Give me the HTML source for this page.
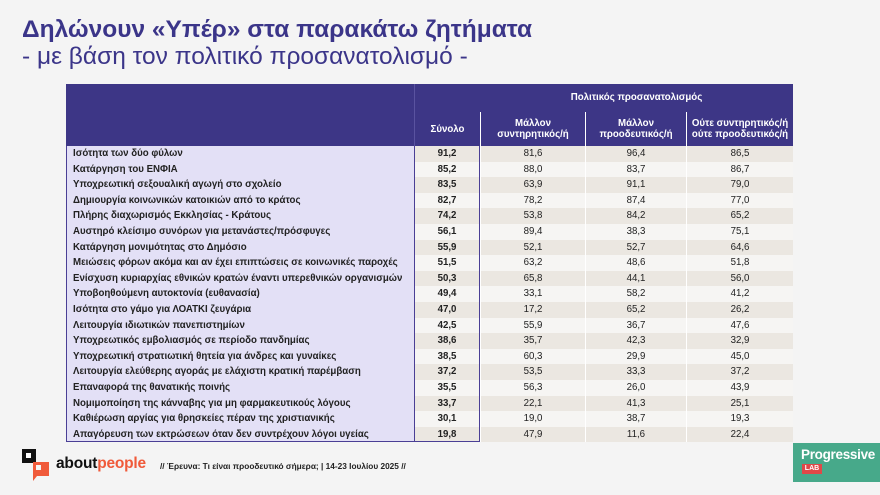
<!DOCTYPE html>
<html><head><meta charset="utf-8"><style>
*{margin:0;padding:0;box-sizing:border-box}
body{width:880px;height:495px;background:#f4f4f4;position:relative;overflow:hidden;font-family:"Liberation Sans","Noto Sans CJK SC",sans-serif}
.t1{position:absolute;left:22px;top:16px;font-size:24.5px;font-weight:bold;color:#3b3589;white-space:nowrap}
.t2{position:absolute;left:22px;top:43px;font-size:24.5px;color:#3b3589;white-space:nowrap}
#tb{position:absolute;left:66px;top:84px;width:727px;font-size:9.7px;color:#222}
.r{display:flex;height:15.6px;line-height:15.6px}
.r div{text-align:center;white-space:nowrap;flex:none;overflow:hidden}
.c1{width:348px}.c2{width:66px}.c3{width:105px}.c4{width:101px}.c5{width:107px}
.h{background:#3d3686;color:#fff;font-weight:bold}
.r.h1{height:28px;line-height:28px}
.r.h2{height:34px;line-height:11px}
.h2 div{padding-top:6px}
.r .l{text-align:left;padding-left:6px;font-weight:bold;background:#e3e0f6;border-left:1.5px solid #4a3f95}
.r .s{font-weight:bold;border-left:1.5px solid #4a3f95;border-right:1.5px solid #4a3f95}
.a .v,.a .s{background:#ebe7e1}
.b .v,.b .s{background:#f6f5f3}
.v{border-left:1px solid #fff}
.last .l,.last .s{border-bottom:1.5px solid #4a3f95}
</style></head><body>
<div class="t1">Δηλώνουν «Υπέρ» στα παρακάτω ζητήματα</div>
<div class="t2">- με βάση τον πολιτικό προσανατολισμό -</div>
<div id="tb">
<div class="r h h1"><div class="c1"></div><div class="c2" style="border-left:1px solid #5a53a0"></div><div style="width:313px">Πολιτικός προσανατολισμός</div></div>
<div class="r h h2"><div class="c1"></div><div class="c2" style="border-left:1px solid #5a53a0;padding-top:12px">Σύνολο</div><div class="c3 v">Μάλλον<br>συντηρητικός/ή</div><div class="c4 v">Μάλλον<br>προοδευτικός/ή</div><div class="c5 v">Ούτε συντηρητικός/ή<br>ούτε προοδευτικός/ή</div></div>
<div class="r a"><div class="c1 l">Ισότητα των δύο φύλων</div><div class="c2 s">91,2</div><div class="c3 v">81,6</div><div class="c4 v">96,4</div><div class="c5 v">86,5</div></div>
<div class="r b"><div class="c1 l">Κατάργηση του ΕΝΦΙΑ</div><div class="c2 s">85,2</div><div class="c3 v">88,0</div><div class="c4 v">83,7</div><div class="c5 v">86,7</div></div>
<div class="r a"><div class="c1 l">Υποχρεωτική σεξουαλική αγωγή στο σχολείο</div><div class="c2 s">83,5</div><div class="c3 v">63,9</div><div class="c4 v">91,1</div><div class="c5 v">79,0</div></div>
<div class="r b"><div class="c1 l">Δημιουργία κοινωνικών κατοικιών από το κράτος</div><div class="c2 s">82,7</div><div class="c3 v">78,2</div><div class="c4 v">87,4</div><div class="c5 v">77,0</div></div>
<div class="r a"><div class="c1 l">Πλήρης διαχωρισμός Εκκλησίας - Κράτους</div><div class="c2 s">74,2</div><div class="c3 v">53,8</div><div class="c4 v">84,2</div><div class="c5 v">65,2</div></div>
<div class="r b"><div class="c1 l">Αυστηρό κλείσιμο συνόρων για μετανάστες/πρόσφυγες</div><div class="c2 s">56,1</div><div class="c3 v">89,4</div><div class="c4 v">38,3</div><div class="c5 v">75,1</div></div>
<div class="r a"><div class="c1 l">Κατάργηση μονιμότητας στο Δημόσιο</div><div class="c2 s">55,9</div><div class="c3 v">52,1</div><div class="c4 v">52,7</div><div class="c5 v">64,6</div></div>
<div class="r b"><div class="c1 l">Μειώσεις φόρων ακόμα και αν έχει επιπτώσεις σε κοινωνικές παροχές</div><div class="c2 s">51,5</div><div class="c3 v">63,2</div><div class="c4 v">48,6</div><div class="c5 v">51,8</div></div>
<div class="r a"><div class="c1 l">Ενίσχυση κυριαρχίας εθνικών κρατών έναντι υπερεθνικών οργανισμών</div><div class="c2 s">50,3</div><div class="c3 v">65,8</div><div class="c4 v">44,1</div><div class="c5 v">56,0</div></div>
<div class="r b"><div class="c1 l">Υποβοηθούμενη αυτοκτονία (ευθανασία)</div><div class="c2 s">49,4</div><div class="c3 v">33,1</div><div class="c4 v">58,2</div><div class="c5 v">41,2</div></div>
<div class="r a"><div class="c1 l">Ισότητα στο γάμο για ΛΟΑΤΚΙ ζευγάρια</div><div class="c2 s">47,0</div><div class="c3 v">17,2</div><div class="c4 v">65,2</div><div class="c5 v">26,2</div></div>
<div class="r b"><div class="c1 l">Λειτουργία ιδιωτικών πανεπιστημίων</div><div class="c2 s">42,5</div><div class="c3 v">55,9</div><div class="c4 v">36,7</div><div class="c5 v">47,6</div></div>
<div class="r a"><div class="c1 l">Υποχρεωτικός εμβολιασμός σε περίοδο πανδημίας</div><div class="c2 s">38,6</div><div class="c3 v">35,7</div><div class="c4 v">42,3</div><div class="c5 v">32,9</div></div>
<div class="r b"><div class="c1 l">Υποχρεωτική στρατιωτική θητεία για άνδρες και γυναίκες</div><div class="c2 s">38,5</div><div class="c3 v">60,3</div><div class="c4 v">29,9</div><div class="c5 v">45,0</div></div>
<div class="r a"><div class="c1 l">Λειτουργία ελεύθερης αγοράς με ελάχιστη κρατική παρέμβαση</div><div class="c2 s">37,2</div><div class="c3 v">53,5</div><div class="c4 v">33,3</div><div class="c5 v">37,2</div></div>
<div class="r b"><div class="c1 l">Επαναφορά της θανατικής ποινής</div><div class="c2 s">35,5</div><div class="c3 v">56,3</div><div class="c4 v">26,0</div><div class="c5 v">43,9</div></div>
<div class="r a"><div class="c1 l">Νομιμοποίηση της κάνναβης για μη φαρμακευτικούς λόγους</div><div class="c2 s">33,7</div><div class="c3 v">22,1</div><div class="c4 v">41,3</div><div class="c5 v">25,1</div></div>
<div class="r b"><div class="c1 l">Καθιέρωση αργίας για θρησκείες πέραν της χριστιανικής</div><div class="c2 s">30,1</div><div class="c3 v">19,0</div><div class="c4 v">38,7</div><div class="c5 v">19,3</div></div>
<div class="r a last"><div class="c1 l">Απαγόρευση των εκτρώσεων όταν δεν συντρέχουν λόγοι υγείας</div><div class="c2 s">19,8</div><div class="c3 v">47,9</div><div class="c4 v">11,6</div><div class="c5 v">22,4</div></div>
</div>
<div style="position:absolute;left:22px;top:449px;width:14px;height:14px;background:#111"></div>
<div style="position:absolute;left:26px;top:453px;width:5px;height:5px;background:#fff"></div>
<div style="position:absolute;left:33px;top:462px;width:16px;height:14px;background:#f05a3a"></div>
<div style="position:absolute;left:33px;top:476px;width:0;height:0;border-left:4px solid #f05a3a;border-bottom:5px solid transparent"></div>
<div style="position:absolute;left:36px;top:465px;width:5px;height:5px;background:#f4f4f4"></div>
<div style="position:absolute;left:56px;top:455px;font-size:15.5px;font-weight:bold;color:#111;letter-spacing:-0.2px">about<span style="color:#f05a3a">people</span></div>
<div style="position:absolute;left:160px;top:461px;font-size:8.3px;font-weight:bold;color:#222">// Έρευνα: Τι είναι προοδευτικό σήμερα; | 14-23 Ιουλίου 2025 //</div>
<div style="position:absolute;left:793px;top:443px;width:87px;height:39px;background:#47a98a"></div>
<div style="position:absolute;left:801px;top:447px;font-size:13.5px;font-weight:bold;color:#fff;letter-spacing:-0.3px">Progressive</div>
<div style="position:absolute;left:802px;top:464px;width:20px;height:10px;background:#e04848;color:#fff;font-size:7px;font-weight:bold;line-height:10px;text-align:center">LAB</div>
</body></html>
